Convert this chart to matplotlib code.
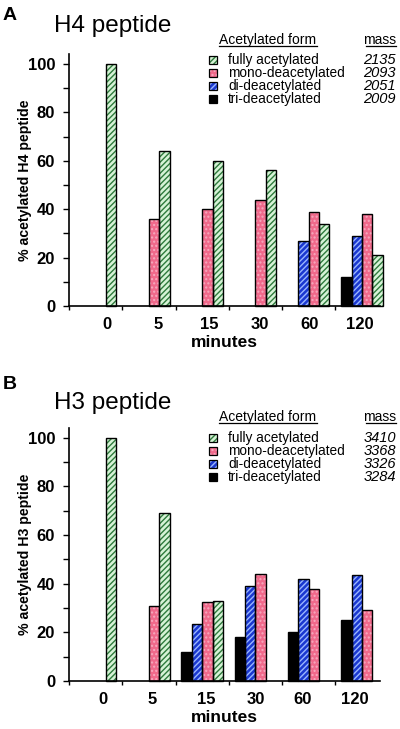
import numpy as np
import matplotlib
matplotlib.use("Agg")
import matplotlib.pyplot as plt
from matplotlib.patches import Rectangle
from matplotlib.lines import Line2D

plt.rcParams['font.family'] = ['Liberation Sans', 'DejaVu Sans']
plt.rcParams['hatch.linewidth'] = 1.0

nan = np.nan
minutes = ["0", "5", "15", "30", "60", "120"]
forms = ["fully acetylated", "mono-deacetylated", "di-deacetylated", "tri-deacetylated"]
mass_H4 = ["2135", "2093", "2051", "2009"]
mass_H3 = ["3410", "3368", "3326", "3284"]

# H4 peptide (%)
tri_H4 = [nan, nan, nan, nan, nan, 12]
di_H4 = [nan, nan, nan, nan, 27, 29]
mono_H4 = [nan, 36, 40, 44, 39, 38]
fully_H4 = [100, 64, 60, 56, 34, 21]

# H3 peptide (%)
tri_H3 = [nan, nan, 12, 18, 20, 25]
di_H3 = [nan, nan, 23.5, 39, 42, 43.5]
mono_H3 = [nan, 31, 32.5, 44, 38, 29]
fully_H3 = [100, 69, 33, nan, nan, nan]

W, H = 400, 729
fig = plt.figure(figsize=(4, 7.29), dpi=100)

def fx(px):
    return px / W

def fy(py):
    return 1 - py / H

# styles: (face, hatch, hatchcolor)
styles = {
    "fully": ("#d6f3d6", "//////", "#2e7a3c"),
    "mono": ("#f0698b", "....", "#f7a9be"),
    "di": ("#1a38d0", "//////", "#9ab6ff"),
    "tri": ("#000000", None, None),
}

bw = 0.195

def draw_bars(ax, x, vals, key, k):
    face, hatch, hc = styles[key]
    xs = x + (k - 1.5) * bw
    v = np.array(vals, dtype=float)
    m = ~np.isnan(v)
    if hatch:
        ax.bar(xs[m], v[m], width=bw, color=face, hatch=hatch, edgecolor=hc,
               linewidth=0, zorder=2, clip_on=False)
        ax.bar(xs[m], v[m], width=bw, color="none", edgecolor="black",
               linewidth=1.0, zorder=3, clip_on=False)
    else:
        ax.bar(xs[m], v[m], width=bw, color=face, edgecolor="black",
               linewidth=1.0, zorder=3, clip_on=False)

def panel(rect, data, ylab, label_off_px):
    ax = fig.add_axes(rect)
    x = np.arange(len(minutes))
    tri, di, mono, fully = data
    draw_bars(ax, x, tri, "tri", 0)
    draw_bars(ax, x, di, "di", 1)
    draw_bars(ax, x, mono, "mono", 2)
    draw_bars(ax, x, fully, "fully", 3)
    ax.set_xlim(-0.5, 5.34)
    ax.set_ylim(0, 104)
    for s in ["top", "right"]:
        ax.spines[s].set_visible(False)
    ax.spines["left"].set_linewidth(1.2)
    ax.spines["bottom"].set_linewidth(1.2)
    ax.set_yticks(np.arange(0, 101, 20))
    ax.set_yticks(np.arange(10, 100, 20), minor=True)
    ax.tick_params(axis="y", which="major", length=4, width=1, direction="out",
                   labelsize=12, pad=6)
    ax.tick_params(axis="y", which="minor", length=4, width=1, direction="out")
    for t in ax.get_yticklabels():
        t.set_fontweight("bold")
    ax.set_xticks(x + np.array(label_off_px) / 53.0)
    ax.set_xticklabels(minutes, fontsize=12, fontweight="bold")
    ax.set_xticks(np.arange(-0.5, 5.0, 1.0), minor=True)
    ax.tick_params(axis="x", which="major", length=0, pad=8)
    ax.tick_params(axis="x", which="minor", length=3, width=1, direction="out")
    ax.set_xlabel("minutes", fontsize=12.5, fontweight="bold", labelpad=2)
    ax.set_ylabel(ylab, fontsize=10.2, fontweight="bold", labelpad=-3)
    return ax

ax1 = panel([fx(69), fy(306), fx(380) - fx(69), (104 * 2.42) / H],
            (tri_H4, di_H4, mono_H4, fully_H4), "% acetylated H4 peptide",
            [11, 9, 7, 4, 1, -2])
ax2 = panel([fx(69), fy(681), fx(380) - fx(69), (104 * 2.433) / H],
            (tri_H3, di_H3, mono_H3, fully_H3), "% acetylated H3 peptide",
            [7, 3, 4, 0, -6, -7])

def header(letter, title, y_letter, y_title):
    fig.text(fx(3), fy(y_letter), letter, fontsize=14, fontweight="bold",
             ha="left", va="center")
    fig.text(fx(54), fy(y_title), title, fontsize=17.5, ha="left", va="center")

header("A", "H4 peptide", 16, 26)
header("B", "H3 peptide", 384, 403)

keys = ["fully", "mono", "di", "tri"]

def legend(y_head, y_rows, masses):
    fig.text(fx(219), fy(y_head), "Acetylated form", fontsize=10, ha="left",
             va="center")
    fig.add_artist(Line2D([fx(219), fx(317)], [fy(y_head + 6)] * 2,
                          color="black", lw=0.9, transform=fig.transFigure))
    fig.text(fx(396), fy(y_head), "mass", fontsize=10, ha="right", va="center")
    fig.add_artist(Line2D([fx(366), fx(396)], [fy(y_head + 6)] * 2,
                          color="black", lw=0.9, transform=fig.transFigure))
    for i, (k, name, m) in enumerate(zip(keys, forms, masses)):
        yc = y_rows[i]
        face, hatch, hc = styles[k]
        s = 8
        if hatch:
            fig.add_artist(Rectangle((fx(209), fy(yc + s / 2)), s / W, s / H,
                                     facecolor=face, hatch=hatch, edgecolor=hc,
                                     linewidth=0, transform=fig.transFigure))
            fig.add_artist(Rectangle((fx(209), fy(yc + s / 2)), s / W, s / H,
                                     facecolor="none", edgecolor="black",
                                     linewidth=0.9, transform=fig.transFigure))
        else:
            fig.add_artist(Rectangle((fx(209), fy(yc + s / 2)), s / W, s / H,
                                     facecolor=face, edgecolor="black",
                                     linewidth=0.9, transform=fig.transFigure))
        fig.text(fx(228), fy(yc), name, fontsize=9.8, ha="left", va="center")
        fig.text(fx(396), fy(yc), m, fontsize=10.5, style="italic", ha="right",
                 va="center")

legend(40, [60, 73, 86, 99], mass_H4)
legend(417, [438, 450.5, 464, 477], mass_H3)

fig.savefig("out.png", dpi=100)
